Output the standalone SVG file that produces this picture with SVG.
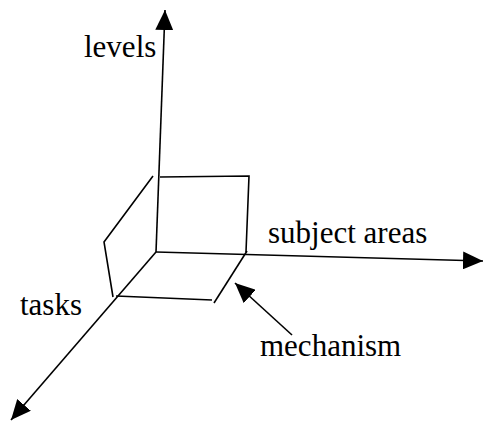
<svg xmlns="http://www.w3.org/2000/svg" width="484" height="423" viewBox="0 0 484 423">
<style>
.l{stroke:#000;stroke-width:1.6;fill:none}
.t{font-size:31px;fill:#000}
</style>
<defs>
<marker id="ah" markerUnits="userSpaceOnUse" markerWidth="22" markerHeight="18" refX="20" refY="9" orient="auto">
<path d="M0,0 L20,9 L0,18 Z" fill="#000"/>
</marker>
</defs>
<g id="connectors">
<line class="l" x1="156" y1="252" x2="165" y2="10" marker-end="url(#ah)"/>
<line class="l" x1="156" y1="252" x2="483" y2="261" marker-end="url(#ah)"/>
<line class="l" x1="156" y1="252" x2="11" y2="420" marker-end="url(#ah)"/>
<line class="l" x1="292" y1="335" x2="235" y2="283" marker-end="url(#ah)"/>
</g>
<g id="box">
<polyline class="l" points="160,177 249,176 246,252"/>
<polyline class="l" points="153,176 104,242 113,297"/>
<line class="l" x1="116" y1="296" x2="212" y2="300"/>
<line class="l" x1="214" y1="303" x2="247" y2="251"/>
</g>
<g id="labels" font-family="'Liberation Serif', 'Times New Roman', Times, serif">
<text class="t" x="84" y="57">levels</text>
<text class="t" x="268" y="243">subject areas</text>
<text class="t" x="20" y="315">tasks</text>
<text class="t" x="260" y="356">mechanism</text>
</g>
</svg>
